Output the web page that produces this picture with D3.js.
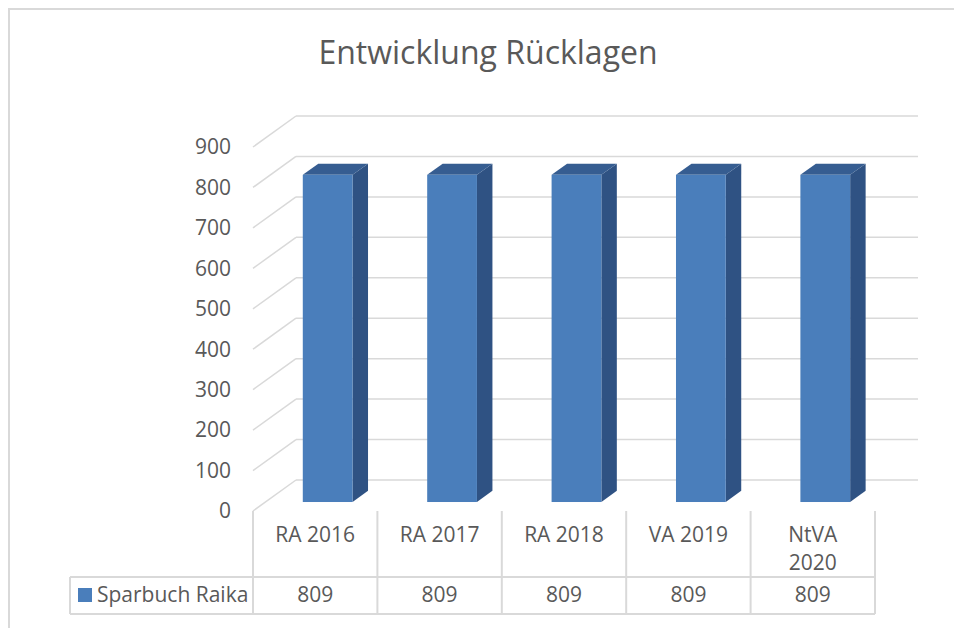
<!DOCTYPE html>
<html>
<head>
<meta charset="utf-8">
<script src="https://cdn.jsdelivr.net/npm/d3@7"></script>
<style>
  body { margin: 0; background: #fff; }
  svg text { font-family: "Open Sans", "Noto Sans", sans-serif; fill: #595959; }
</style>
</head>
<body>
<div id="chart"></div>
<script>
// data
const categories = ["RA 2016", "RA 2017", "RA 2018", "VA 2019", "NtVA 2020"];
const seriesName = "Sparbuch Raika";
const values = [809, 809, 809, 809, 809];
const yTicks = [0, 100, 200, 300, 400, 500, 600, 700, 800, 900];

const W = 954, H = 628;
const fontSize = "21px";
const svg = d3.select("#chart").append("svg")
    .attr("width", W).attr("height", H);

// outer chart border (runs off right/bottom edge)
svg.append("rect")
    .attr("x", 9).attr("y", 9)
    .attr("width", 980).attr("height", 650)
    .attr("fill", "none").attr("stroke", "#d9d9d9").attr("stroke-width", 2);

// title
svg.append("text")
    .attr("x", 488).attr("y", 64)
    .attr("text-anchor", "middle")
    .attr("font-size", "32px")
    .text("Entwicklung Rücklagen");

// front plane scales, depth goes back by (depthX, depthY)
const x = d3.scaleBand().domain(categories).range([253, 875]).padding(0);
const y = d3.scaleLinear().domain([0, 900]).range([511, 147]);
const depthX = 43, depthY = -31;
const gridColor = "#d9d9d9";

// gridlines: side wall diagonal + back wall line
const grid = svg.append("g");
yTicks.forEach(t => {
    const yy = y(t);
    grid.append("line")
        .attr("x1", x.range()[0]).attr("y1", yy)
        .attr("x2", x.range()[0] + depthX).attr("y2", yy + depthY)
        .attr("stroke", gridColor).attr("stroke-width", 1.5);
    grid.append("line")
        .attr("x1", x.range()[0] + depthX).attr("y1", yy + depthY)
        .attr("x2", x.range()[1] + depthX).attr("y2", yy + depthY)
        .attr("stroke", gridColor).attr("stroke-width", 1.5);
});

// y tick labels
svg.append("g").selectAll("text")
    .data(yTicks).enter().append("text")
    .attr("x", 231)
    .attr("y", d => y(d))
    .attr("dy", "0.35em")
    .attr("text-anchor", "end")
    .attr("font-size", fontSize)
    .text(d => d);

// 3D bars
const f0 = 0.29, f1 = 0.65;          // bar depth (fraction of floor depth)
const barW = x.bandwidth() * 0.4;
const bdx = (f1 - f0) * depthX, bdy = (f1 - f0) * depthY;

const bars = svg.append("g").selectAll("g")
    .data(categories.map((c, i) => ({ cat: c, value: values[i] })))
    .enter().append("g");

function poly(pts) { return "M" + pts.map(p => p.join(",")).join("L") + "Z"; }

bars.each(function(d) {
    const g = d3.select(this);
    const x0 = x(d.cat) + (x.bandwidth() - barW) / 2 + f0 * depthX;
    const x1 = x0 + barW;
    const yb = y(0) + f0 * depthY;
    const yt = y(d.value) + f0 * depthY;
    // side
    g.append("path")
        .attr("d", poly([[x1, yb], [x1 + bdx, yb + bdy], [x1 + bdx, yt + bdy], [x1, yt]]))
        .attr("fill", "#2f5283");
    // top
    g.append("path")
        .attr("d", poly([[x0, yt], [x0 + bdx, yt + bdy], [x1 + bdx, yt + bdy], [x1, yt]]))
        .attr("fill", "#365d91");
    // front
    g.append("rect")
        .attr("x", x0).attr("y", yt)
        .attr("width", barW).attr("height", yb - yt)
        .attr("fill", "#4a7ebb");
});

// data table
const rowTop = 511, rowMid = 577, rowBot = 614, legendLeft = 70;
const table = svg.append("g")
    .attr("stroke", gridColor).attr("stroke-width", 2);
x.domain().concat([null]).forEach((c, i) => {
    const xx = c === null ? x.range()[1] : x(c);
    table.append("line")
        .attr("x1", xx).attr("x2", xx)
        .attr("y1", rowTop).attr("y2", rowBot);
});
table.append("line").attr("x1", legendLeft).attr("x2", legendLeft)
    .attr("y1", rowMid).attr("y2", rowBot);
[rowMid, rowBot].forEach(yy => {
    table.append("line")
        .attr("x1", legendLeft).attr("x2", x.range()[1])
        .attr("y1", yy).attr("y2", yy);
});

// category labels (wrapped when too wide)
const catLabels = svg.append("g").selectAll("text")
    .data(categories).enter().append("text")
    .attr("x", d => x(d) + x.bandwidth() / 2)
    .attr("y", 535)
    .attr("dy", "0.35em")
    .attr("text-anchor", "middle")
    .attr("font-size", fontSize)
    .text(d => d);
catLabels.each(function(d) {
    const t = d3.select(this);
    if (this.getComputedTextLength() > 92) {
        const words = d.split(" ");
        t.text(null);
        words.forEach((w, i) => {
            t.append("tspan")
                .attr("x", x(d) + x.bandwidth() / 2)
                .attr("y", 535 + i * 28)
                .attr("dy", "0.35em")
                .text(w);
        });
    }
});

// value row
svg.append("g").selectAll("text")
    .data(categories).enter().append("text")
    .attr("x", d => x(d) + x.bandwidth() / 2)
    .attr("y", 595)
    .attr("dy", "0.35em")
    .attr("text-anchor", "middle")
    .attr("font-size", fontSize)
    .text((d, i) => values[i]);

// legend key in table
svg.append("rect")
    .attr("x", 78).attr("y", 588)
    .attr("width", 14).attr("height", 14)
    .attr("fill", "#4a7ebb");
svg.append("text")
    .attr("x", 97).attr("y", 595)
    .attr("dy", "0.35em")
    .attr("font-size", fontSize)
    .text(seriesName);
</script>
</body>
</html>
